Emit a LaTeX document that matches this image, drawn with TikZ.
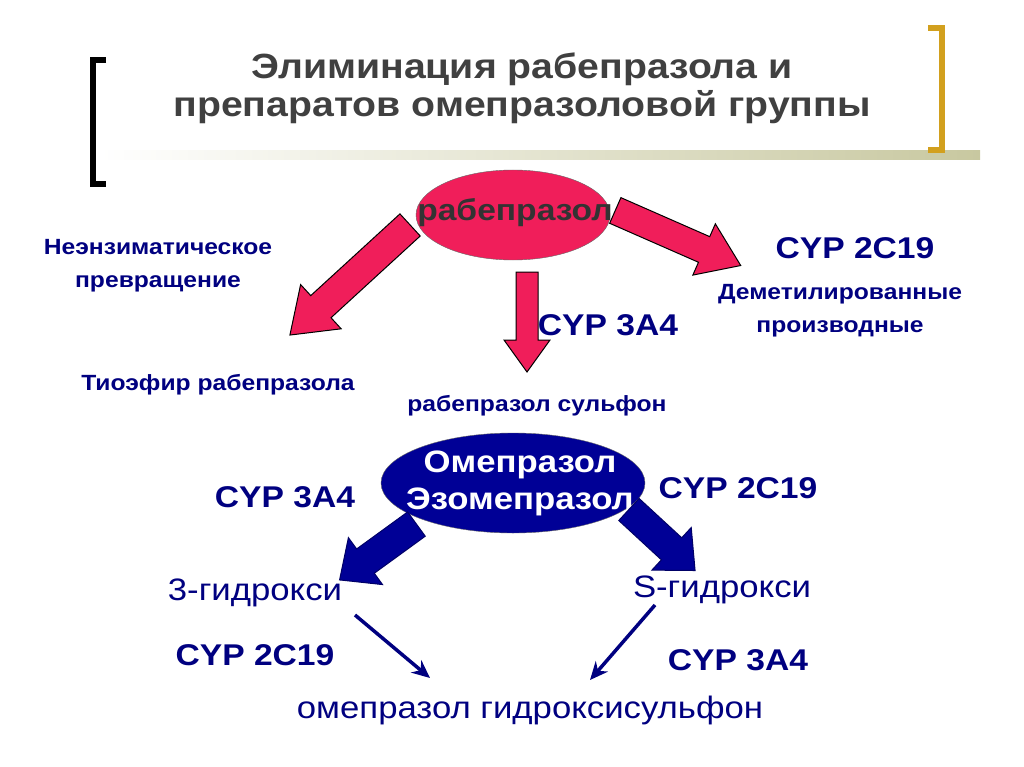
\documentclass[tikz,border=0pt]{standalone}
\usepackage{fontspec}
\setmainfont[FakeStretch=1.12]{Liberation Sans}
\usetikzlibrary{shapes.geometric,arrows.meta}
\definecolor{tnavy}{RGB}{0,0,128}
\definecolor{bnavy}{RGB}{0,0,150}
\definecolor{pinkr}{RGB}{240,30,90}
\definecolor{gold}{RGB}{210,160,30}
\definecolor{olive}{RGB}{200,200,160}
\tikzset{
 lbl/.style={text=tnavy,font=\bfseries\fontsize{22}{33}\selectfont,align=center},
 cyp/.style={text=tnavy,font=\bfseries\fontsize{30}{34}\selectfont},
 reg/.style={text=tnavy,font=\fontsize{31}{34}\selectfont},
 pics/bigarrow/.style n args={4}{code={
   \path[pic actions] (-#1/2,-#2/2) -- (#1/2-#4,-#2/2) -- (#1/2-#4,-#3/2) -- (#1/2,0)
     -- (#1/2-#4,#3/2) -- (#1/2-#4,#2/2) -- (-#1/2,#2/2) -- cycle;}},
 parr/.style={draw=black,line width=1pt,fill=pinkr},
 barr/.style={draw=black!60!blue,line width=1pt,fill=bnavy},
 thin/.style={draw=tnavy,line width=3.5pt,-{Stealth[length=18pt,width=16pt]}}
}
\begin{document}
\begin{tikzpicture}[x=1pt,y=-1pt]
\useasboundingbox (0,0) rectangle (1024,767);
\fill[white] (0,0) rectangle (1024,767);
\shade[left color=white,right color=olive] (100,151) rectangle (980,160);
\draw[line width=6pt] (106,60) -- (93,60) -- (93,184) -- (106,184);
\draw[gold,line width=6pt] (928,28) -- (942,28) -- (942,150) -- (928,150);
\node[text=black!75,font=\bfseries\fontsize{35}{38}\selectfont,align=center] (title) at (522,88) {Элиминация рабепразола и\\препаратов омепразоловой группы};
\node[ellipse,fill=pinkr,draw=black!60,minimum width=194pt,minimum height=90pt] (rab) at (513,215) {};
\pic[parr,rotate=222.5] (a1) at (350,280) {bigarrow={163}{30}{60}{42}};
\pic[parr,rotate=270] (a2) at (527,322) {bigarrow={100}{22}{46}{32}};
\pic[parr,rotate=-23.7] (a3) at (678,238) {bigarrow={137}{28}{56}{40}};
\node[text=black!80,font=\bfseries\fontsize{30}{34}\selectfont] (rabt) at (515,213) {рабепразол};
\node[lbl] (ne) at (158,266) {Неэнзиматическое\\превращение};
\node[cyp] (c1) at (855,248) {CYP 2C19};
\node[lbl] (dm) at (840,311) {Деметилированные\\производные};
\node[cyp] (c2) at (608,325) {CYP 3A4};
\node[lbl] (tio) at (218,385) {Тиоэфир рабепразола};
\node[lbl] (sul) at (537,406) {рабепразол сульфон};
\node[ellipse,fill=bnavy,draw=black!60,minimum width=264pt,minimum height=100pt] (ome) at (513,483) {};
\node[text=white,font=\bfseries\fontsize{31}{37}\selectfont,align=center] (omet) at (520,483) {Омепразол\\Эзомепразол};
\pic[barr,rotate=216] (b1) at (378,552) {bigarrow={95}{30}{58}{32}};
\pic[barr,rotate=-42.7] (b2) at (662,540) {bigarrow={90}{30}{58}{32}};
\node[cyp] (c3) at (285,497) {CYP 3A4};
\node[cyp] (c4) at (738,488) {CYP 2C19};
\node[reg] (h3) at (255,593) {3-гидрокси};
\node[reg] (hs) at (722,590) {S-гидрокси};
\node[cyp] (c5) at (255,655) {CYP 2C19};
\node[cyp] (c6) at (738,660) {CYP 3A4};
\node[reg] (hsf) at (530,710) {омепразол гидроксисульфон};
\coordinate (t1s) at (355,615); \coordinate (t1e) at (430,678);
\coordinate (t2s) at (655,605); \coordinate (t2e) at (590,680);
\draw[thin] (t1s) -- (t1e);
\draw[thin] (t2s) -- (t2e);
\end{tikzpicture}
\end{document}
